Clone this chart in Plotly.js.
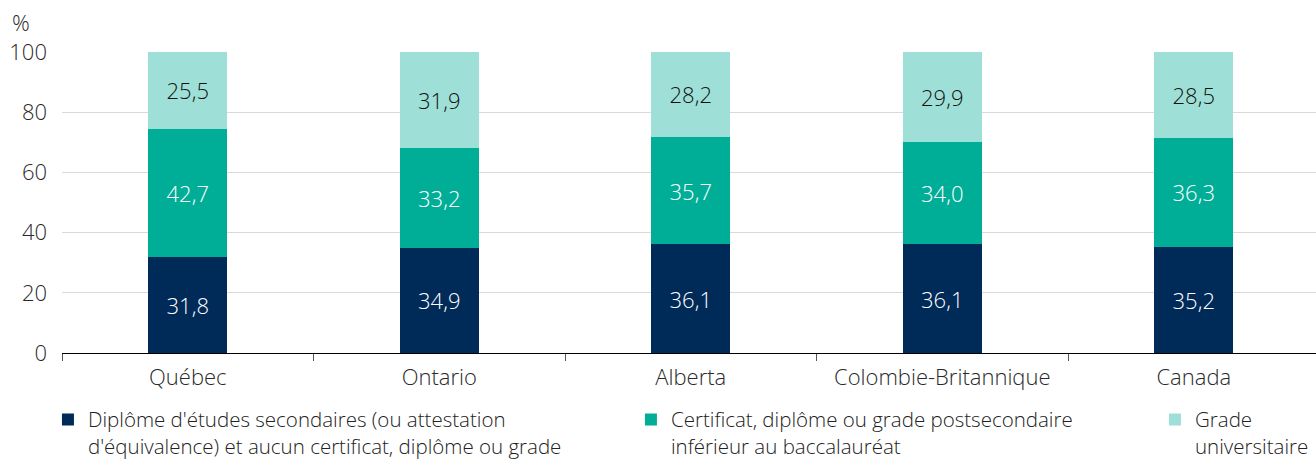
<!DOCTYPE html>
<html><head><meta charset="utf-8">
<script src="https://cdn.plot.ly/plotly-3.0.1.min.js"></script>
<style>html,body{margin:0;padding:0;background:#fff}#c{width:1316px;height:460px}</style>
</head><body><div id="c"></div>
<script>
const categories = ["Québec", "Ontario", "Alberta", "Colombie-Britannique", "Canada"];
const secondaire = [31.8, 34.9, 36.1, 36.1, 35.2];
const postsecondaire = [42.7, 33.2, 35.7, 34.0, 36.3];
const universitaire = [25.5, 31.9, 28.2, 29.9, 28.5];
const seriesNames = [
  "Diplôme d'études secondaires (ou attestation<br>d'équivalence) et aucun certificat, diplôme ou grade",
  "Certificat, diplôme ou grade postsecondaire<br>inférieur au baccalauréat",
  "Grade<br>universitaire"
];
const yTicks = [0, 20, 40, 60, 80, 100];

const F = '"Open Sans", "Noto Sans", sans-serif';
const FS = 22;
const LFS = 20.5;
const W = 300;
const colors = ["#002a58", "#00ae97", "#9ee0d7"];
const textColors = ["#ffffff", "#ffffff", "#111111"];
const vals = [secondaire, postsecondaire, universitaire];
const legends = ["legend", "legend2", "legend3"];

const traces = vals.map((v, i) => ({
  type: "bar", x: categories, y: v, name: seriesNames[i],
  marker: {color: colors[i]}, width: 0.314,
  texttemplate: "%{y:.1f}", textposition: "inside", insidetextanchor: "middle",
  textfont: {family: F, size: FS, weight: W, color: textColors[i]},
  hoverinfo: "skip", legend: legends[i]
}));

const legBase = {orientation: "h", yanchor: "top", xanchor: "left", y: -0.155,
  font: {family: F, size: LFS, weight: W, color: "#222"}, valign: "top", bgcolor: "rgba(0,0,0,0)"};

const layout = {
  width: 1316, height: 460,
  margin: {l: 62, r: 0, t: 52, b: 107, autoexpand: false},
  separators: ", ",
  barmode: "stack",
  showlegend: true,
  paper_bgcolor: "#fff", plot_bgcolor: "#fff",
  font: {family: F, size: FS, weight: W, color: "#2a2a2a"},
  xaxis: {range: [-0.5, 4.486], showline: true, linecolor: "#000", linewidth: 1,
    ticks: "outside", tickson: "boundaries", ticklen: 7, tickcolor: "#555",
    ticklabelstandoff: 5,
    tickfont: {family: F, size: FS, weight: W, color: "#2a2a2a"}, showgrid: false, fixedrange: true},
  yaxis: {range: [0, 100], tickvals: yTicks, showgrid: true, gridcolor: "#d9d9d9", gridwidth: 1,
    zeroline: false, showline: false, ticks: "", ticklabelstandoff: 14,
    tickfont: {family: F, size: FS, weight: W, color: "#2a2a2a"}, fixedrange: true},
  legend: Object.assign({}, legBase, {x: -0.0112}),
  legend2: Object.assign({}, legBase, {x: 0.4537}),
  legend3: Object.assign({}, legBase, {x: 0.8716}),
  annotations: [{text: "%", xref: "paper", yref: "paper", x: -0.033, y: 1.1, xanchor: "center",
    yanchor: "middle", showarrow: false, font: {family: F, size: FS, weight: W, color: "#2a2a2a"}}]
};

Plotly.newPlot("c", traces, layout, {displayModeBar: false, staticPlot: true});
</script></body></html>
